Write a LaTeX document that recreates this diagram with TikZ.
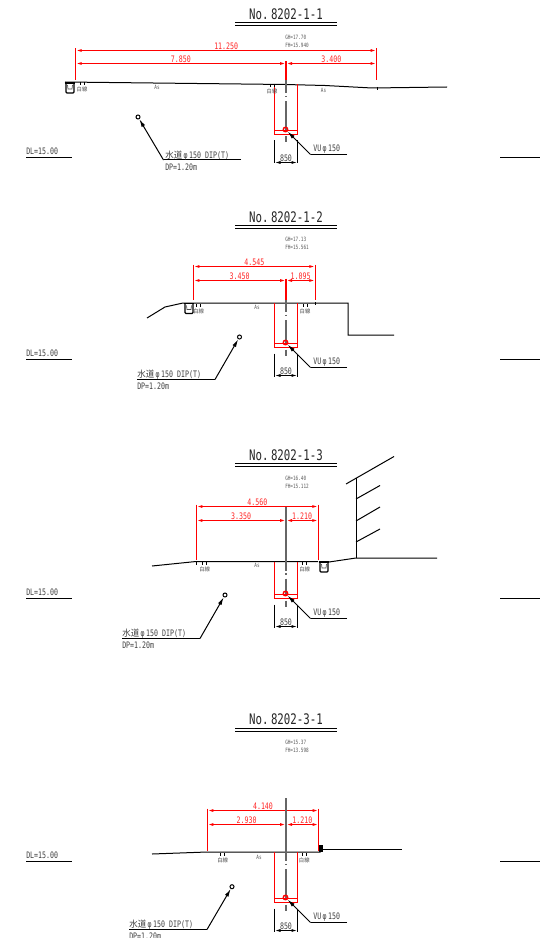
\documentclass[tikz,border=0pt]{standalone}
\usepackage{fontspec}
\usetikzlibrary{arrows.meta}
\newfontfamily\cad[FakeStretch=0.74]{DejaVu Sans Mono}
\newfontfamily\cjk[FakeStretch=0.95]{Noto Sans CJK JP}
\definecolor{cadred}{RGB}{255,0,0}
\tikzset{
  x=0.75pt,y=-0.75pt,
  ground/.style={draw=black,line width=0.75pt},
  rulel/.style={draw=black,line width=0.6pt},
  redline/.style={draw=cadred,line width=0.85pt},
  dimline/.style={redline,{Latex[length=4.5pt,width=2.2pt]}-{Latex[length=4.5pt,width=2.2pt]}},
  blkdim/.style={draw=black,line width=0.75pt,{Latex[length=4.5pt,width=2.2pt]}-{Latex[length=4.5pt,width=2.2pt]}},
  extline/.style={draw=black,line width=0.75pt},
  centre/.style={draw=black!60,line width=0.9pt},
  leaderl/.style={draw=black,line width=0.75pt},
  leaderarrow/.style={draw=black,line width=0.75pt,-{Latex[length=6pt,width=3pt]}},
  title/.style={font=\cad\fontsize{10.9}{12}\selectfont,inner sep=0pt,text=black!85},
  dimtxt/.style={font=\cad\fontsize{6.7}{8}\selectfont,inner sep=0pt,text=cadred!85!white},
  txt/.style={font=\cad\fontsize{6.7}{8}\selectfont,inner sep=0pt,text=black!75,anchor=west},
  tiny/.style={font=\cad\fontsize{4.4}{5}\selectfont,inner sep=0pt,text=black!65},
  tinyj/.style={font=\cjk\fontsize{4.2}{5}\selectfont,inner sep=0pt,text=black!70},
  pipe/.style={circle,draw=cadred,line width=1pt,inner sep=0pt,minimum size=3.4pt},
  hole/.style={circle,draw=black,line width=0.75pt,fill=white,inner sep=0pt,minimum size=3pt},
}
% #1 prefix, #2 title, #3 title y, #4 upper rule y, #5 GH, #6 FH, #7 GH y
\newcommand{\SecHead}[7]{%
  \node[title] (#1t) at (286,#3) {#2};
  \coordinate (#1ra) at (235,#4); \coordinate (#1rb) at (337,#4);
  \coordinate (#1rc) at (235,#4+3); \coordinate (#1rd) at (337,#4+3);
  \draw[rulel] (#1ra) -- (#1rb);
  \draw[rulel] (#1rc) -- (#1rd);
  \node[tiny,anchor=west] (#1gh) at (285,#7) {#5};
  \node[tiny,anchor=west] (#1fh) at (285,#7+8) {#6};
}
% #1 prefix, #2 ground y, #3 trench bottom y, #4 centre-line top y
\newcommand{\SecTrench}[4]{%
  \coordinate (#1tl) at (274.5,#2); \coordinate (#1tr) at (297.5,#2);
  \coordinate (#1bl) at (274.5,#3); \coordinate (#1br) at (297.5,#3);
  \coordinate (#1il) at (274.5,#3-4); \coordinate (#1ir) at (297.5,#3-4);
  \coordinate (#1ca) at (286,#4); \coordinate (#1cb) at (286,#2+9);
  \coordinate (#1cc) at (286,#2+11.5); \coordinate (#1cd) at (286,#2+13);
  \coordinate (#1ce) at (286,#2+17); \coordinate (#1cf) at (286,#3-3);
  \coordinate (#1cg) at (286,#3+2); \coordinate (#1ch) at (286,#3+8);
  \draw[centre] (#1ca) -- (#1cb);
  \draw[centre] (#1cc) -- (#1cd);
  \draw[centre] (#1ce) -- (#1cf);
  \draw[centre] (#1cg) -- (#1ch);
  \draw[redline] (#1tl) -- (#1bl) -- (#1br) -- (#1tr);
  \draw[redline] (#1il) -- (#1ir);
  \node[pipe] (#1p) at (285.5,#3-5) {};
  \coordinate (#1ea) at (274.5,#3+6); \coordinate (#1eb) at (274.5,#3+29);
  \coordinate (#1ec) at (297.5,#3+6); \coordinate (#1ed) at (297.5,#3+29);
  \draw[extline] (#1ea) -- (#1eb);
  \draw[extline] (#1ec) -- (#1ed);
  \coordinate (#1da) at (274.5,#3+28); \coordinate (#1db) at (297.5,#3+28);
  \draw[blkdim] (#1da) -- (#1db);
  \node[txt,anchor=center] (#1d) at (286,#3+23.5) {850};
  \coordinate (#1vk) at (310.5,#3+20); \coordinate (#1ve) at (347,#3+20);
  \draw[leaderl] (#1ve) -- (#1vk);
  \draw[leaderarrow] (#1vk) -- (#1p);
  \node[txt] (#1v) at (313,#3+15) {VU\,φ\,150};
}
% #1 prefix, #2 left x, #3 right x, #4 top dim y, #5 low dim y, #6 ext bottom y, #7 top label, #8 left label, #9 right label
\newcommand{\SecDims}[9]{%
  \coordinate (#1ua) at (#2,#4); \coordinate (#1ub) at (#3,#4);
  \coordinate (#1la) at (#2,#5); \coordinate (#1lc) at (286,#5); \coordinate (#1lb) at (#3,#5);
  \coordinate (#1xa) at (#2,#4-2); \coordinate (#1xb) at (#2,#6);
  \coordinate (#1xc) at (#3,#4-2); \coordinate (#1xd) at (#3,#6);
  \coordinate (#1xe) at (286,#5-2); \coordinate (#1xf) at (286,#6);
  \draw[redline] (#1xa) -- (#1xb);
  \draw[redline] (#1xc) -- (#1xd);
  \draw[redline] (#1xe) -- (#1xf);
  \draw[dimline] (#1ua) -- (#1ub);
  \draw[dimline] (#1la) -- (#1lc);
  \draw[dimline] (#1lc) -- (#1lb);
  \path (#1ua) -- (#1ub) node[dimtxt,midway,yshift=3.2pt] (#1ut) {#7};
  \path (#1la) -- (#1lc) node[dimtxt,midway,yshift=3.2pt] (#1lt) {#8};
  \path (#1lc) -- (#1lb) node[dimtxt,midway,yshift=3.2pt] (#1rt) {#9};
}
% #1 prefix, #2 circle x, #3 circle y, #4 knee x, #5 knee y, #6 line end x, #7 text x
\newcommand{\SecWater}[7]{%
  \node[hole] (#1h) at (#2,#3) {};
  \coordinate (#1k) at (#4,#5); \coordinate (#1e) at (#6,#5);
  \draw[leaderl] (#1e) -- (#1k);
  \draw[leaderarrow] (#1k) -- (#1h);
  \node[txt] (#1w) at (#7,#5-4.5) {{\cjk 水道}\,φ\,150 DIP(T)};
  \node[txt] (#1dp) at (#7,#5+7) {DP=1.20m};
}
% #1 prefix, #2 y of DL rule
\newcommand{\SecDL}[2]{%
  \coordinate (#1a) at (26,#2); \coordinate (#1b) at (72,#2);
  \coordinate (#1c) at (500,#2); \coordinate (#1d) at (540,#2);
  \draw[ground] (#1a) -- (#1b);
  \draw[ground] (#1c) -- (#1d);
  \node[txt] (#1t) at (26,#2-6) {DL=15.00};
}
% #1 name, #2 x, #3 y : white line marker
\newcommand{\WhiteLine}[3]{%
  \node[tinyj] (#1) at (#2,#3) {白線};
  \draw[black,line width=0.5pt] (#2-2,#3-7) -- (#2-2,#3-4) (#2+2,#3-7) -- (#2+2,#3-4);
}
% #1 name, #2 left x, #3 top y : U ditch
\newcommand{\Ditch}[3]{%
  \coordinate (#1) at (#2,#3);
  \draw[black,line width=1pt] (#2,#3) -- (#2+10,#3);
  \draw[black,line width=1pt] (#2+1,#3) -- (#2+1,#3+9) -- (#2+2,#3+10) -- (#2+8,#3+10) -- (#2+9,#3+9) -- (#2+9,#3);
  \draw[black!70,line width=0.5pt] (#2+2.5,#3+2) -- (#2+3,#3+6) -- (#2+7,#3+6) -- (#2+7.5,#3+2);
}
\begin{document}
\begin{tikzpicture}
\useasboundingbox (0,0) rectangle (540,938);
% ---------- section 1
\SecHead{a}{No.\,8202-1-1}{14.5}{22.5}{GH=17.70}{FH=15.940}{37}
\SecDims{a}{75.7}{376.7}{50.5}{63.5}{80}{11.250}{7.850}{3.400}
\draw[ground] (65,82) -- (285,84.5) -- (325,85.5) -- (372,88) -- (447,87);
\SecTrench{a}{84.5}{134.5}{80}
\SecWater{aw}{138}{117}{163.5}{160}{241}{165}
\SecDL{al}{157.5}
\Ditch{ad}{65}{83}
\WhiteLine{awa}{82}{89}
\WhiteLine{awb}{272}{91}
\node[tiny] (aas) at (157,87) {As};
\node[tiny] (abs) at (323.5,90) {As};
\draw[black,line width=0.5pt] (377,87) -- (377,90);
% ---------- section 2
\SecHead{b}{No.\,8202-1-2}{217}{225.5}{GH=17.13}{FH=15.561}{239}
\SecDims{b}{193.3}{315.3}{266.5}{280.5}{300}{4.545}{3.450}{1.095}
\draw[ground] (147,318) -- (165,307) -- (183,303) -- (348,303) -- (348,335) -- (394,335);
\SecTrench{b}{303}{347.5}{300}
\SecWater{bw}{239.5}{337}{215}{379.5}{137}{137}
\SecDL{bl}{359.5}
\Ditch{bd}{184}{303.5}
\WhiteLine{bwa}{198.7}{311}
\WhiteLine{bwb}{305}{311}
\node[tiny] (bas) at (257,307) {As};
\draw[black,line width=0.75pt] (315.3,302) -- (315.3,305);
% ---------- section 3
\SecHead{c}{No.\,8202-1-3}{455}{463.5}{GH=16.40}{FH=15.112}{478}
\SecDims{c}{196.3}{318.3}{506.5}{520.5}{560}{4.560}{3.350}{1.210}
\draw[ground] (152,566) -- (196,561.5) -- (318,561.5);
\draw[ground] (329,562) -- (356,558) -- (437,558);
\draw[ground] (356.5,478) -- (356.5,558);
\draw[ground] (346,484) -- (394,456.5);
\draw[ground] (356,499) -- (380,485.5);
\draw[ground] (356,521) -- (380,507);
\draw[ground] (356,542) -- (380,529);
\SecTrench{c}{561.5}{598.5}{507}
\SecWater{cw}{225}{595}{200}{638.5}{122}{122}
\SecDL{cl}{598.5}
\Ditch{cd}{319}{562}
\WhiteLine{cwa}{204.7}{569}
\WhiteLine{cwb}{304.7}{569}
\node[tiny] (cas) at (257,565) {As};
\draw[black,line width=0.5pt] (196.3,561) -- (196.3,565);
% ---------- section 4
\SecHead{d}{No.\,8202-3-1}{719}{728.5}{GH=15.37}{FH=13.598}{742}
\SecDims{d}{207.3}{318.7}{810.5}{824.5}{851}{4.140}{2.930}{1.210}
\draw[ground] (152,854) -- (207,852) -- (318,852) -- (320,852) -- (320,849);
\draw[ground] (322,849.5) -- (402,849.5);
\fill[black] (319,844.5) rectangle (322.5,852);
\SecTrench{d}{852}{902.5}{798}
\SecWater{dw}{232}{886.7}{207}{929.5}{129}{129}
\SecDL{dl}{861.5}
\WhiteLine{dwa}{222.7}{860}
\WhiteLine{dwb}{304.3}{860}
\node[tiny] (das) at (259,857) {As};
\end{tikzpicture}
\end{document}
